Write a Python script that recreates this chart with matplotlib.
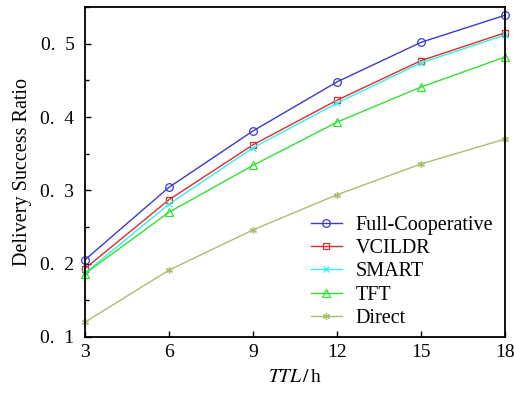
import numpy as np
import matplotlib.pyplot as plt
from matplotlib.ticker import MultipleLocator, FixedLocator

plt.rcParams['font.family'] = 'Liberation Serif'
plt.rcParams['mathtext.fontset'] = 'stix'

# TTL (hours) and delivery success ratio for each scheme
ttl = [3, 6, 9, 12, 15, 18]
full_coop = [0.205, 0.304, 0.381, 0.448, 0.502, 0.539]
vcildr = [0.193, 0.287, 0.362, 0.423, 0.477, 0.515]
smart = [0.187, 0.281, 0.358, 0.419, 0.474, 0.512]
tft = [0.186, 0.270, 0.334, 0.393, 0.441, 0.482]
direct = [0.120, 0.191, 0.246, 0.294, 0.336, 0.370]

y_ticks = [0.1, 0.2, 0.3, 0.4, 0.5]
y_labels = ['0.  1', '0.  2', '0.  3', '0.  4', '0.  5']

fig = plt.figure(figsize=(5.14, 3.94), dpi=100)
ax = fig.add_axes([0.165, 0.145, 0.818, 0.837])

series = [
    ('Full-Cooperative', full_coop, '#3a3acc', 'o', 5.5),
    ('VCILDR', vcildr, '#dd2a2a', 's', 5),
    ('SMART', smart, '#33f0f0', 'x', 4.5),
    ('TFT', tft, '#33e033', '^', 5.5),
    ('Direct', direct, '#a9be6e', (6, 2, 0), 5),
]
for name, vals, col, mk, ms in series:
    ax.plot(ttl, vals, color=col, marker=mk, markersize=ms, linewidth=1.0,
            markerfacecolor='none', markeredgewidth=0.9, label=name,
            clip_on=False)

ax.set_xlim(3, 18)
ax.set_ylim(0.1, 0.55)
ax.set_xticks(ttl)
ax.yaxis.set_major_locator(FixedLocator(y_ticks))
ax.set_yticklabels(y_labels)
ax.yaxis.set_minor_locator(MultipleLocator(0.05))
ax.tick_params(direction='in', labelsize=14, length=4, width=1)
ax.tick_params(which='minor', direction='in', length=3, width=1)
ax.tick_params(axis='x', pad=5)
ax.tick_params(axis='y', pad=7.5)
for s in ax.spines.values():
    s.set_linewidth(1.3)

ax.set_xlabel(r'$\mathit{TTL}\,/\,$h', fontsize=14, labelpad=6)
ax.set_ylabel('Delivery Success Ratio', fontsize=14.5, labelpad=6)

ax.legend(loc='lower right', frameon=False, fontsize=14.5, handlelength=1.5,
          handletextpad=0.7, labelspacing=0.2, borderaxespad=0.3,
          bbox_to_anchor=(1.005, -0.015))

fig.savefig('out.png', dpi=100)
